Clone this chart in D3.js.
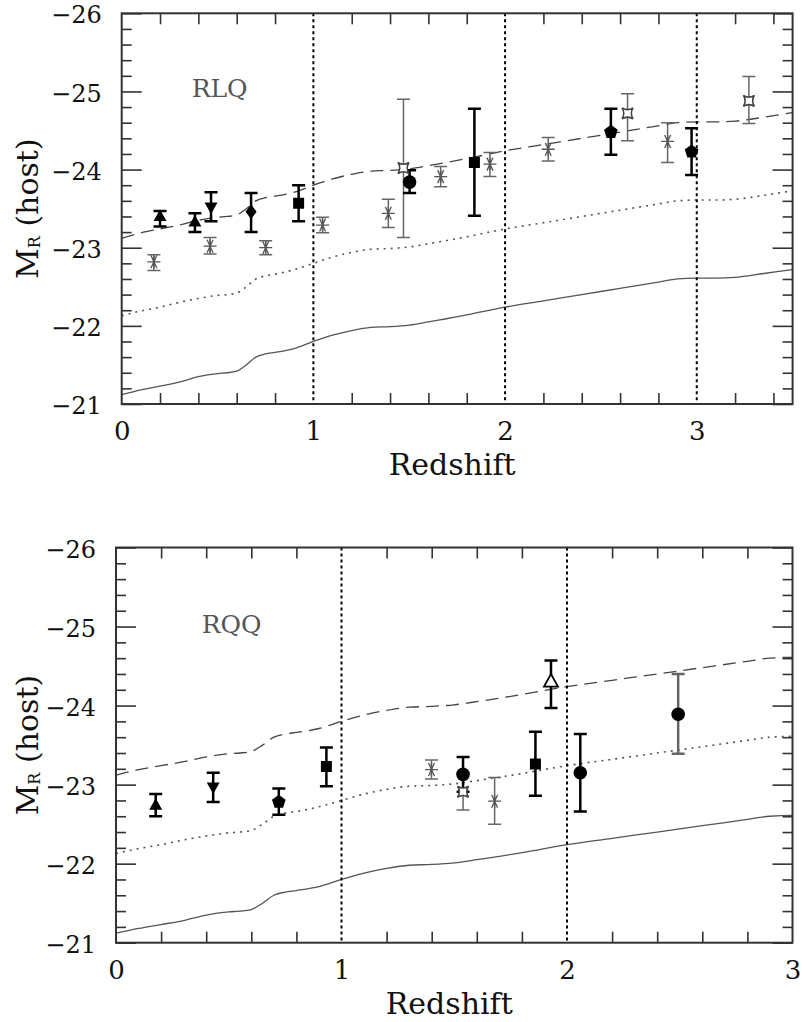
<!DOCTYPE html>
<html>
<head>
<meta charset="utf-8">
<script src="https://cdn.jsdelivr.net/npm/d3@7"></script>
<style>
    body { margin: 0; background: #fff; }
    svg text { font-family: "DejaVu Serif", serif; fill: #111; }
</style>
</head>
<body>
<div id="chart"></div>
<script>

// model tracks (host magnitude vs redshift), shared by both panels
const modelZ      = [0, 0.1, 0.2, 0.3, 0.4, 0.5, 0.55, 0.6, 0.65, 0.7, 0.75, 0.8, 0.9, 1.0, 1.1, 1.2, 1.3, 1.4, 1.5, 1.6, 1.8, 2.0, 2.2, 2.4, 2.6, 2.8, 2.9, 3.0, 3.1, 3.2, 3.35, 3.5];
const modelDashed = [-23.12, -23.19, -23.24, -23.29, -23.35, -23.39, -23.40, -23.42, -23.50, -23.60, -23.64, -23.66, -23.71, -23.80, -23.88, -23.94, -23.98, -23.99, -24.01, -24.05, -24.14, -24.24, -24.32, -24.40, -24.48, -24.56, -24.60, -24.61, -24.61, -24.62, -24.67, -24.73];
const modelDotted = [-22.13, -22.19, -22.24, -22.30, -22.35, -22.39, -22.40, -22.42, -22.50, -22.60, -22.64, -22.66, -22.72, -22.80, -22.88, -22.94, -22.98, -22.99, -23.01, -23.05, -23.14, -23.24, -23.32, -23.40, -23.48, -23.56, -23.60, -23.61, -23.61, -23.62, -23.67, -23.73];
const modelSolid  = [-21.12, -21.18, -21.23, -21.28, -21.35, -21.39, -21.40, -21.42, -21.50, -21.60, -21.64, -21.66, -21.71, -21.80, -21.88, -21.94, -21.98, -21.99, -22.01, -22.05, -22.14, -22.24, -22.32, -22.40, -22.48, -22.56, -22.60, -22.61, -22.61, -22.62, -22.67, -22.72];

// RLQ points: [z, M, bright end, faint end, symbol, style]
const rlqPoints = [
    [0.168, -22.82, -22.91, -22.71, 'ast', 'grey'],
    [0.461, -23.02, -23.13, -22.92, 'ast', 'grey'],
    [0.751, -23.00, -23.09, -22.91, 'ast', 'grey'],
    [1.048, -23.29, -23.39, -23.19, 'ast', 'grey'],
    [1.391, -23.44, -23.62, -23.26, 'ast', 'grey'],
    [1.470, -24.02, -24.90, -23.13, 'star4', 'grey'],
    [1.664, -23.91, -24.04, -23.78, 'ast', 'grey'],
    [1.921, -24.07, -24.22, -23.91, 'ast', 'grey'],
    [2.225, -24.26, -24.41, -24.11, 'ast', 'grey'],
    [2.639, -24.72, -24.97, -24.37, 'star4', 'grey'],
    [2.848, -24.36, -24.60, -24.09, 'ast', 'grey'],
    [3.272, -24.88, -25.19, -24.59, 'star4', 'grey'],
    [0.200, -23.40, -23.47, -23.27, 'triUp', 'black'],
    [0.382, -23.33, -23.44, -23.20, 'triUp', 'black'],
    [0.466, -23.52, -23.71, -23.34, 'triDown', 'black'],
    [0.675, -23.46, -23.70, -23.20, 'diamond', 'black'],
    [0.923, -23.57, -23.80, -23.34, 'square', 'black'],
    [1.502, -23.84, -23.99, -23.70, 'circle', 'black'],
    [1.840, -24.09, -24.78, -23.41, 'square', 'black'],
    [2.552, -24.48, -24.78, -24.19, 'pentagon', 'black'],
    [2.973, -24.23, -24.53, -23.93, 'pentagon', 'black']
];

// RQQ points
const rqqPoints = [
    [1.399, -23.19, -23.31, -23.07, 'ast', 'grey'],
    [1.539, -22.91, -23.14, -22.68, 'star4', 'grey'],
    [1.679, -22.79, -23.09, -22.50, 'ast', 'grey'],
    [2.493, -23.89, -24.40, -23.39, 'circle', 'greybar'],
    [0.176, -22.74, -22.88, -22.60, 'triUp', 'black'],
    [0.431, -22.97, -23.15, -22.78, 'triDown', 'black'],
    [0.722, -22.78, -22.95, -22.62, 'pentagon', 'black'],
    [0.933, -23.23, -23.47, -22.98, 'square', 'black'],
    [1.539, -23.13, -23.35, -22.91, 'circle', 'black'],
    [1.860, -23.26, -23.67, -22.86, 'square', 'black'],
    [1.929, -24.29, -24.57, -23.97, 'triOpen', 'black'],
    [2.059, -23.15, -23.64, -22.66, 'circle', 'black']
];

const rlqXTicks = [0, 1, 2, 3];
const rqqXTicks = [0, 1, 2, 3];
const yTicks = [-26, -25, -24, -23, -22, -21];
const rlqVLines = [1, 2, 3];
const rqqVLines = [1, 2];

const W = 802, H = 1022;

const svg = d3.select('#chart').append('svg')
    .attr('width', W)
    .attr('height', H);

// marker paths, centred on 0,0
const symbolPaths = {
    triUp: 'M0,-7L6.5,4.5L-6.5,4.5Z',
    triDown: 'M0,7L6.5,-4.5L-6.5,-4.5Z',
    triOpen: 'M0,-8.5L7,4L-7,4Z',
    diamond: 'M0,-7.5L5.5,0L0,7.5L-5.5,0Z',
    square: 'M-5.5,-5.5H5.5V5.5H-5.5Z',
    pentagon: d3.range(5).map((i, k) => {
        let a = -Math.PI / 2 + i * 2 * Math.PI / 5;
        return (k ? 'L' : 'M') + (7.2 * Math.cos(a)).toFixed(2) + ',' + (7.2 * Math.sin(a)).toFixed(2);
    }).join('') + 'Z',
    star4: 'M-5.5,-5.5Q0,-2 5.5,-5.5Q2,0 5.5,5.5Q0,2 -5.5,5.5Q-2,0 -5.5,-5.5Z',
    ast: 'M-6.5,0L6.5,0M-3,-6.5L3,6.5M3,-6.5L-3,6.5M0,-6.5L0,6.5'
};

function drawPanel(cfg) {

    let x = d3.scaleLinear().domain([0, cfg.xMax]).range([cfg.left, cfg.right]);
    let y = d3.scaleLinear().domain([-26, -21]).range([cfg.top, cfg.bottom]);

    let g = svg.append('g');

    let clipId = 'clip-' + cfg.name;
    g.append('clipPath').attr('id', clipId)
        .append('rect')
        .attr('x', cfg.left).attr('y', cfg.top)
        .attr('width', cfg.right - cfg.left)
        .attr('height', cfg.bottom - cfg.top);

    let plot = g.append('g').attr('clip-path', `url(#${clipId})`);

    // model curves
    let line = d3.line()
        .x(d => x(d[0]))
        .y(d => y(d[1]))
        .curve(d3.curveMonotoneX);

    let tracks = [
        {vals: modelSolid, dash: null, color: '#555', w: 1.3},
        {vals: modelDotted, dash: '2,5', color: '#555', w: 1.6},
        {vals: modelDashed, dash: '13,7', color: '#444', w: 1.3}
    ];
    tracks.forEach(t => {
        plot.append('path')
            .datum(modelZ.map((z, i) => [z, t.vals[i]]))
            .attr('d', line)
            .attr('fill', 'none')
            .attr('stroke', t.color)
            .attr('stroke-width', t.w)
            .attr('stroke-dasharray', t.dash);
    });

    // vertical dotted lines
    plot.selectAll('.vline')
        .data(cfg.vlines)
        .enter().append('line')
        .attr('x1', d => x(d)).attr('x2', d => x(d))
        .attr('y1', cfg.top).attr('y2', cfg.bottom)
        .attr('stroke', '#000')
        .attr('stroke-width', 2)
        .attr('stroke-dasharray', '3,3');

    // error bars
    let bars = plot.selectAll('.err')
        .data(cfg.points)
        .enter().append('g')
        .attr('stroke', d => d[5] === 'black' ? '#000' : '#666')
        .attr('stroke-width', d => d[5] === 'grey' ? 1.5 : 2.5);

    bars.append('line')
        .attr('x1', d => x(d[0])).attr('x2', d => x(d[0]))
        .attr('y1', d => y(d[2])).attr('y2', d => y(d[3]));
    bars.append('line')
        .attr('x1', d => x(d[0]) - 6.5).attr('x2', d => x(d[0]) + 6.5)
        .attr('y1', d => y(d[2])).attr('y2', d => y(d[2]));
    bars.append('line')
        .attr('x1', d => x(d[0]) - 6.5).attr('x2', d => x(d[0]) + 6.5)
        .attr('y1', d => y(d[3])).attr('y2', d => y(d[3]));

    // markers
    cfg.points.forEach(d => {
        let px = x(d[0]), py = y(d[1]);
        if (d[4] === 'circle') {
            plot.append('circle')
                .attr('cx', px).attr('cy', py).attr('r', 6.8)
                .attr('fill', '#000');
            return;
        }
        let p = plot.append('path')
            .attr('d', symbolPaths[d[4]])
            .attr('transform', `translate(${px},${py})`);
        if (d[4] === 'ast') {
            p.attr('fill', 'none').attr('stroke', '#555').attr('stroke-width', 1.3);
        } else if (d[4] === 'star4') {
            p.attr('fill', '#fff').attr('stroke', '#444').attr('stroke-width', 1.6);
        } else if (d[4] === 'triOpen') {
            p.attr('fill', '#fff').attr('stroke', '#000').attr('stroke-width', 1.8);
        } else {
            p.attr('fill', '#000');
        }
    });

    // axes: ticks pointing inward on all four sides
    let yMinor = d3.range(-26, -21.001, 0.2).filter(v => Math.abs(v - Math.round(v)) > 0.01);
    let xMinor = d3.range(0, cfg.xMax + 0.001, 0.2).filter(v => Math.abs(v - Math.round(v)) > 0.01);

    let axes = g.append('g').attr('class', 'axes');

    let yLabels = axes.append('g')
        .attr('transform', `translate(${cfg.left},0)`)
        .call(d3.axisLeft(y).tickValues(yTicks).tickSize(-20).tickPadding(20).tickFormat(d3.format('d')));
    axes.append('g')
        .attr('transform', `translate(${cfg.left},0)`)
        .call(d3.axisLeft(y).tickValues(yMinor).tickSize(-10).tickFormat(''));
    axes.append('g')
        .attr('transform', `translate(${cfg.right},0)`)
        .call(d3.axisRight(y).tickValues(yTicks).tickSize(-20).tickFormat(''));
    axes.append('g')
        .attr('transform', `translate(${cfg.right},0)`)
        .call(d3.axisRight(y).tickValues(yMinor).tickSize(-10).tickFormat(''));
    axes.append('g')
        .attr('transform', `translate(0,${cfg.bottom})`)
        .call(d3.axisBottom(x).tickValues(xMinor).tickSize(-11).tickFormat(''));
    axes.append('g')
        .attr('transform', `translate(0,${cfg.top})`)
        .call(d3.axisTop(x).tickValues(xMinor).tickSize(-11).tickFormat(''));
    axes.append('g')
        .attr('transform', `translate(0,${cfg.bottom})`)
        .call(d3.axisBottom(x).tickValues(cfg.xTicks).tickSize(0).tickPadding(18).tickFormat(d3.format('d')));

    axes.selectAll('.domain').remove();
    axes.selectAll('.tick line').attr('stroke', '#333').attr('stroke-width', 1.6);
    axes.selectAll('.tick text')
        .attr('font-size', 26)
        .attr('font-family', '"DejaVu Serif", serif')
        .attr('fill', '#111');
    // y labels a touch smaller and lower, as in the reference
    yLabels.selectAll('.tick text')
        .attr('font-size', 24)
        .attr('dy', '0.4em');

    // frame
    g.append('rect')
        .attr('x', cfg.left).attr('y', cfg.top)
        .attr('width', cfg.right - cfg.left)
        .attr('height', cfg.bottom - cfg.top)
        .attr('fill', 'none')
        .attr('stroke', '#333')
        .attr('stroke-width', 2);

    // sample label
    g.append('text')
        .attr('x', x(cfg.labelPos[0]))
        .attr('y', y(cfg.labelPos[1]))
        .attr('font-size', 25)
        .style('fill', '#555')
        .text(cfg.label);

    // axis titles
    g.append('text')
        .attr('x', (cfg.left + cfg.right) / 2 - 5)
        .attr('y', cfg.bottom + 71)
        .attr('text-anchor', 'middle')
        .attr('font-size', 30)
        .text('Redshift');

    let yt = g.append('text')
        .attr('transform', `translate(38,${(cfg.top + cfg.bottom) / 2}) rotate(-90)`)
        .attr('text-anchor', 'middle')
        .attr('font-size', 30);
    yt.append('tspan').text('M');
    yt.append('tspan').attr('font-size', 16).attr('dy', 2).text('R');
    yt.append('tspan').attr('dy', -2).text(' (host)');
}

drawPanel({
    name: 'rlq', left: 121.7, right: 792.6, top: 13.3, bottom: 404,
    xMax: 3.5, xTicks: rlqXTicks, vlines: rlqVLines,
    points: rlqPoints, label: 'RLQ', labelPos: [0.365, -24.93]
});

drawPanel({
    name: 'rqq', left: 116, right: 792.5, top: 547.5, bottom: 942.7,
    xMax: 3, xTicks: rqqXTicks, vlines: rqqVLines,
    points: rqqPoints, label: 'RQQ', labelPos: [0.38, -24.92]
});

</script>
</body>
</html>
